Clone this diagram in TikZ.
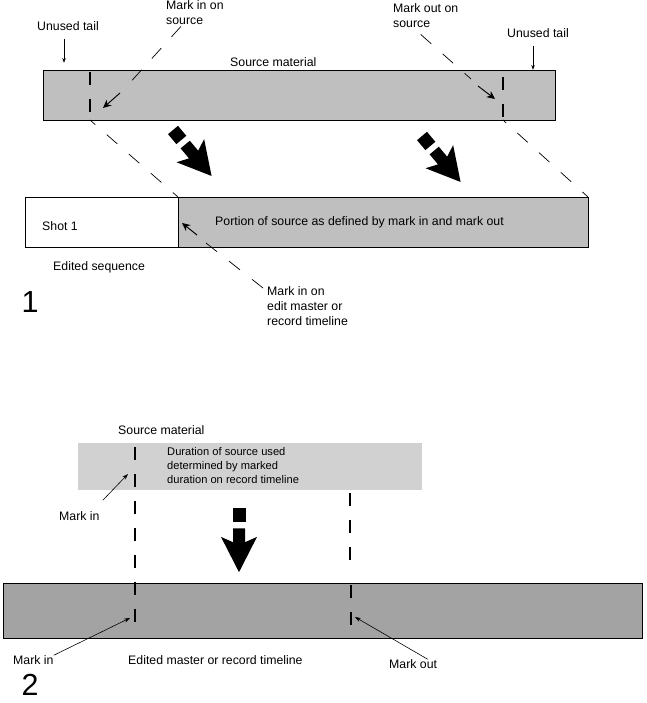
\documentclass[tikz,border=0pt]{standalone}
\usepackage{fontspec}
\setmainfont{Liberation Sans}
\usetikzlibrary{arrows.meta,calc}

\tikzset{
  lbl/.style={font=\fontsize{10.5}{12.75}\selectfont, inner sep=0pt, align=left},
  note/.style={font=\fontsize{9.5}{11.9}\selectfont, inner sep=0pt, align=left},
  fignum/.style={font=\fontsize{26}{28}\selectfont, inner sep=0pt},
  guide/.style={dash pattern=on 12pt off 13pt, line width=0.6pt},
  markline/.style={dash pattern=on 11pt off 12pt, line width=1pt},
  ptr/.style={-{Stealth[length=7pt,width=6.5pt]}, line width=0.8pt},
  tailptr/.style={-{Stealth[length=4pt,width=3pt]}, line width=0.4pt},
  fineptr/.style={-{Stealth[length=5pt,width=3.5pt]}, line width=0.5pt},
  bar/.style={draw=black, line width=0.8pt, fill=black!25},
  dropmark/.pic={
    \fill (0,-6.5) rectangle (13,6.5);
    \fill (19,-6) -- (32,-6) -- (27,-18) -- (60,0) -- (27,18) -- (32,6) -- (19,6) -- cycle;
  }
}

\begin{document}
\begin{tikzpicture}[x=0.03cm,y=-0.03cm]
\useasboundingbox (0,0) rectangle (647,703);

% 1: source material and edited sequence
\draw[bar] (43,70) rectangle (555,120);
\node[lbl, anchor=west] (srcTitle) at (230,62) {Source material};
\draw[markline] (90,72) -- (90,120);
\draw[markline] (503,77) -- (503,120);
\coordinate (srcIn) at (90,120);
\coordinate (srcOut) at (503,120);

\node[lbl, anchor=west] (tailL) at (37,26) {Unused tail};
\node[lbl, anchor=west] (tailR) at (507,33) {Unused tail};
\draw[tailptr] (tailL.south) ++(-4,8) -- ++(0,24);
\draw[tailptr] (tailR.south) ++(-5,8) -- ++(0,24);

\node[lbl, anchor=north west] (misLbl) at (166,0) {Mark in on\\source};
\node[lbl, anchor=north west] (mosLbl) at (393,3) {Mark out on\\source};
\coordinate (misTip) at (103,108);
\coordinate (mosTip) at (495,99);
\draw[guide] ($(misLbl.south)+(-14,2)$) -- ($(misTip)+(23,-21)$);
\draw[ptr] ($(misTip)+(17,-15)$) -- (misTip);
\draw[guide] ($(mosLbl.south)+(-5,7)$) -- ($(mosTip)+(-24,-20)$);
\draw[ptr] ($(mosTip)+(-17,-13)$) -- (mosTip);

\pic[rotate=-50] at (173,130) {dropmark};
\pic[rotate=-50] at (422,136) {dropmark};

\draw[line width=0.8pt, fill=white] (25,197) rectangle (178,247);
\draw[bar] (178,197) rectangle (588,247);
\coordinate (edJoin) at (178,197);
\coordinate (edEnd) at (588,197);
\draw[guide, dash phase=6pt] (srcIn) -- (edJoin);
\draw[guide, dash phase=8.5pt] (srcOut) -- (edEnd);

\node[lbl, anchor=west] (shot) at (42,226) {Shot 1};
\node[lbl, anchor=west] (portion) at (215,222) {Portion of source as defined by mark in and mark out};
\node[lbl, anchor=west] (edSeq) at (53,267) {Edited sequence};

\node[lbl, anchor=north west] (mieLbl) at (267,286) {Mark in on\\edit master or\\record timeline};
\coordinate (mieTip) at (182,223);
\draw[guide] ($(mieLbl.north west)+(-4,2)$) -- ($(mieTip)+(24,20)$);
\draw[ptr] ($(mieTip)+(15,12)$) -- (mieTip);

\node[fignum] (numOne) at (30,302) {1};

% 2: source trimmed to the record timeline
\node[lbl, anchor=west] (src2Title) at (118,430) {Source material};
\fill[black!18] (78,443) rectangle (422,490);
\node[note, anchor=north west] (durNote) at (167,447) {Duration of source used\\determined by marked\\duration on record timeline};

\draw[line width=0.8pt, fill=black!36] (3,583) rectangle (642,638);
\draw[markline] (135,447) -- (135,628);
\draw[markline] (350,493) -- (350,570);
\draw[markline] (351,585) -- (351,628);

\node[lbl, anchor=west] (mi2Lbl) at (59,516) {Mark in};
\coordinate (src2In) at (128,474);
\draw[fineptr] ($(mi2Lbl.north east)+(3,-11)$) -- (src2In);

\pic[rotate=-90, xscale=1.07] at (239,508) {dropmark};

\node[lbl, anchor=west] (mi3Lbl) at (13,660) {Mark in};
\node[lbl, anchor=west] (recLbl) at (128,660) {Edited master or record timeline};
\node[lbl, anchor=west] (moLbl) at (389,664) {Mark out};
\coordinate (recIn) at (130,618);
\coordinate (recOut) at (355,617);
\draw[fineptr] (mi3Lbl.north east) -- (recIn);
\draw[fineptr] ($(moLbl.north)!0.6!(moLbl.north east)$) -- (recOut);

\node[fignum] (numTwo) at (30,685) {2};
\end{tikzpicture}
\end{document}
